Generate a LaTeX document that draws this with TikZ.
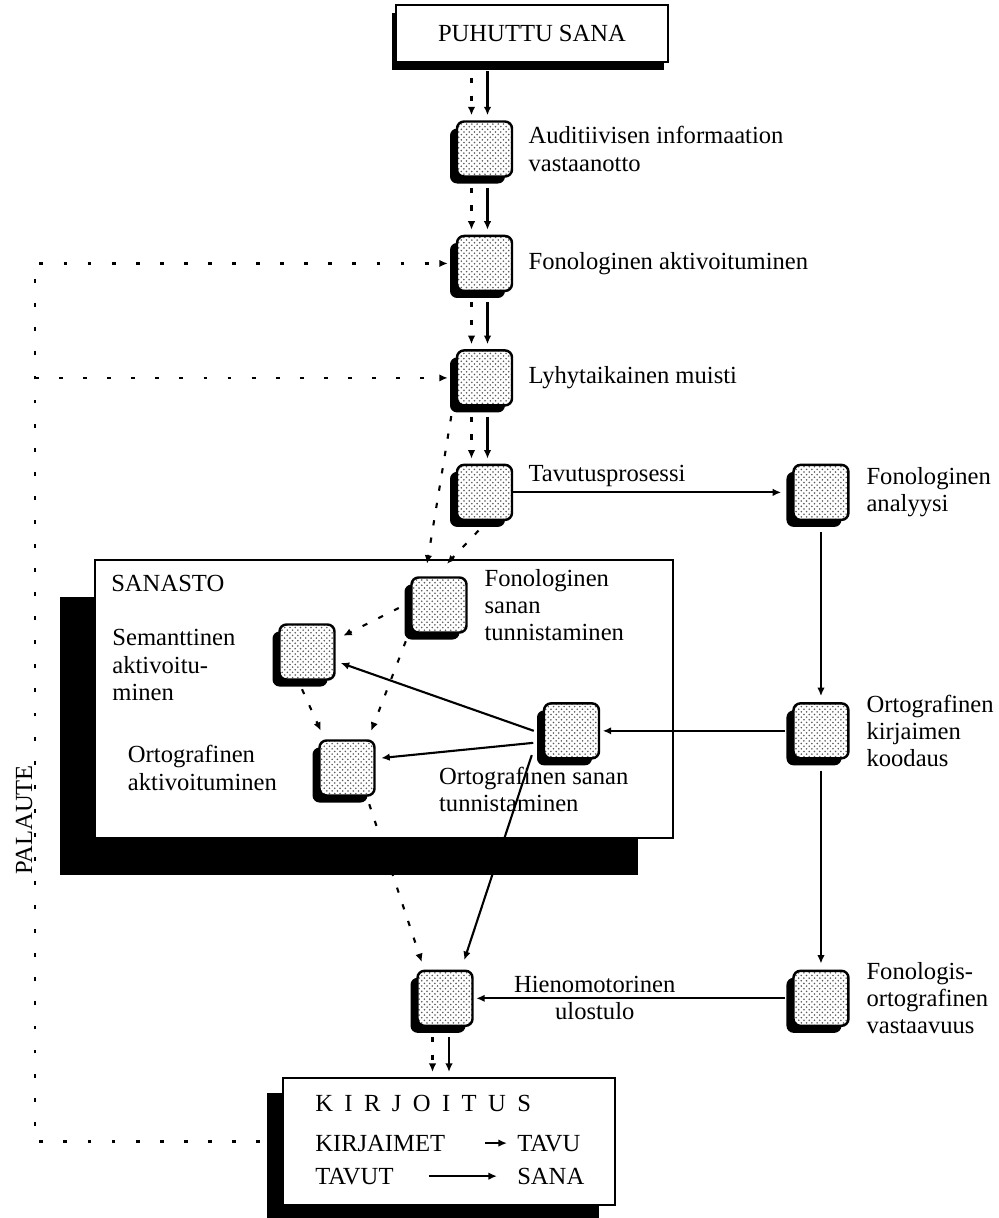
\documentclass[tikz,border=0pt]{standalone}
\usepackage{fontspec}
\setmainfont{Liberation Serif}
\usepackage{tikz}
\usetikzlibrary{arrows.meta,positioning,shadows,patterns,calc}

\begin{document}
\begin{tikzpicture}[
    font=\fontsize{14}{15.5}\selectfont,
    node distance=1.14cm,
    proc/.style={draw, line width=1.4pt, rounded corners=4pt, minimum size=1.1cm, inner sep=0pt,
        drop shadow={shadow xshift=-1.4mm, shadow yshift=-1.4mm, opacity=1, fill=black},
        preaction={fill=white}, pattern=crosshatch dots, pattern color=black!65},
    panel/.style={draw, line width=1.2pt, fill=white, inner sep=0pt},
    lbl/.style={align=left, inner sep=0pt},
    arrow/.style={-{Latex[length=1.7mm,width=1.5mm]}, line width=1.2pt},
    dotarrow/.style={arrow, dash pattern=on 3pt off 7pt},
    feedback/.style={arrow, line width=1.4pt, dash pattern=on 2.2pt off 11.5pt}
]
\useasboundingbox (0,0) rectangle (19.98,-24.36);

% big boxes
\node[panel, minimum width=5.44cm, minimum height=1.14cm,
    drop shadow={shadow xshift=-0.8mm, shadow yshift=-1.6mm, opacity=1, fill=black}] (puhe) at (10.64,-0.67) {PUHUTTU SANA};
\node[panel, minimum width=11.56cm, minimum height=5.56cm,
    drop shadow={shadow xshift=-7mm, shadow yshift=-7.4mm, opacity=1, fill=black}] (sanasto) at (7.68,-13.98) {};
\node[lbl, below right=0.32cm and 0.34cm of sanasto.north west] (sanastolbl) {SANASTO};
\node[panel, minimum width=6.64cm, minimum height=2.54cm,
    drop shadow={shadow xshift=-3.2mm, shadow yshift=-3mm, opacity=1, fill=black}] (kirj) at (8.98,-22.83) {};

% kirjoitus text
\node[lbl, below right=0.35cm and 0.66cm of kirj.north west] (kw) {\spaceskip=6.5pt K I R J O I T U S};
\node[lbl, anchor=base west] (ka) at ([yshift=-0.8cm]kw.base west) {KIRJAIMET};
\node[lbl, anchor=base west] (kb) at ([xshift=4.04cm]ka.base west) {TAVU};
\node[lbl, anchor=base west] (kc) at ([yshift=-0.66cm]ka.base west) {TAVUT};
\node[lbl, anchor=base west] (kd) at ([xshift=4.04cm]kc.base west) {SANA};
\draw[arrow, shorten <=0.8cm, shorten >=0.2cm] (ka.east) -- (ka.east -| kb.west);
\draw[arrow, shorten <=0.7cm, shorten >=0.4cm] (kc.east) -- (kc.east -| kd.west);

% main chain
\node[proc] (n1) at (9.69,-2.98) {};
\node[lbl, right=0.3cm of n1] (n1lbl) {Auditiivisen informaation\\vastaanotto};
\node[proc, below=of n1] (n2) {};
\node[lbl, right=0.3cm of n2] (n2lbl) {Fonologinen aktivoituminen};
\node[proc, below=of n2] (n3) {};
\node[lbl, right=0.3cm of n3] (n3lbl) {Lyhytaikainen muisti};
\node[proc, below=of n3] (n4) {};
\node[lbl, above right=0.1cm and 0.3cm of n4.east] (n4lbl) {Tavutusprosessi};
\node[proc, right=5.58cm of n4] (n5) {};
\node[lbl, right=0.33cm of n5] (n5lbl) {Fonologinen\\analyysi};
\node[proc, below=3.62cm of n5] (n6) {};
\node[lbl, right=0.33cm of n6] (n6lbl) {Ortografinen\\kirjaimen\\koodaus};
\node[proc, below=4.2cm of n6] (n7) {};
\node[lbl, right=0.33cm of n7] (n7lbl) {Fonologis-\\ortografinen\\vastaavuus};
\node[proc, left=6.37cm of n7] (n8) {};

% sanasto
\node[proc, left=3.84cm of n6] (os) {};
\node[lbl, anchor=north west] (oslbl) at ([xshift=-2.08cm,yshift=-0.15cm]os.south west) {Ortografinen sanan\\tunnistaminen};
\node[proc] (fs) at (8.78,-12.1) {};
\node[lbl, right=0.33cm of fs] (fslbl) {Fonologinen\\sanan\\tunnistaminen};
\node[proc] (sem) at (6.14,-13.04) {};
\node[lbl, left=0.85cm of sem, yshift=-0.26cm] (semlbl) {Semanttinen\\aktivoitu-\\minen};
\node[proc] (oa) at (6.94,-15.36) {};
\node[lbl, left=0.82cm of oa] (oalbl) {Ortografinen\\aktivoituminen};

\node[rotate=90, inner sep=0pt] (palaute) at (0.48,-16.4) {PALAUTE};

% vertical pairs
\draw[dotarrow, shorten <=3mm, shorten >=1mm] ([xshift=-2.6mm]n1.north |- puhe.south) -- ([xshift=-2.6mm]n1.north);
\draw[arrow, shorten <=1.6mm, shorten >=1mm] ([xshift=0.6mm]n1.north |- puhe.south) -- ([xshift=0.6mm]n1.north);
\draw[dotarrow, shorten <=2mm, shorten >=1mm] ([xshift=-2.6mm]n1.south) -- ([xshift=-2.6mm]n2.north);
\draw[arrow, shorten <=2mm, shorten >=1mm] ([xshift=0.6mm]n1.south) -- ([xshift=0.6mm]n2.north);
\draw[dotarrow, shorten <=2mm, shorten >=1mm] ([xshift=-2.6mm]n2.south) -- ([xshift=-2.6mm]n3.north);
\draw[arrow, shorten <=2mm, shorten >=1mm] ([xshift=0.6mm]n2.south) -- ([xshift=0.6mm]n3.north);
\draw[dotarrow, shorten <=2mm, shorten >=1mm] ([xshift=-2.6mm]n3.south) -- ([xshift=-2.6mm]n4.north);
\draw[arrow, shorten <=2mm, shorten >=1mm] ([xshift=0.6mm]n3.south) -- ([xshift=0.6mm]n4.north);
\draw[dotarrow, shorten <=2mm, shorten >=1mm] ([xshift=-2.5mm]n8.south) -- ([xshift=-2.5mm]n8.south |- kirj.north);
\draw[arrow, shorten <=2mm, shorten >=1mm] ([xshift=0.8mm]n8.south) -- ([xshift=0.8mm]n8.south |- kirj.north);

% right branch
\draw[arrow, shorten >=2.2mm] (n4.east) -- (n5.west);
\draw[arrow, shorten <=2.2mm, shorten >=1.2mm] (n5.south) -- (n6.north);
\draw[arrow, shorten <=2.2mm, shorten >=1.2mm] (n6.south) -- (n7.north);
\draw[arrow, shorten <=1.4mm, shorten >=0.5mm] (n6.west) -- (os.east);
\draw[arrow, shorten <=1.4mm, shorten >=0.5mm] (n7.west) -- (n8.east)
    node[lbl, pos=0.62, above=1mm] (hm) {Hienomotorinen}
    node[lbl, pos=0.62, below=0.6mm] (ul) {ulostulo};

% inside sanasto
\draw[arrow] ([xshift=-1.8mm]os.west) -- ([xshift=1mm,yshift=-2.2mm]sem.east);
\draw[arrow] ([xshift=-1.9mm,yshift=-2.4mm]os.west) -- ([xshift=1.1mm,yshift=2mm]oa.east);
\draw[arrow] ([xshift=-2.2mm,yshift=0.9mm]os.south west) -- ([xshift=-1.9mm,yshift=1.9mm]n8.north east);
\draw[dotarrow] ([xshift=-0.9mm,yshift=-1.9mm]n3.south west) -- ([xshift=-2.4mm,yshift=2.5mm]fs.north);
\draw[dotarrow] ([xshift=-1.2mm,yshift=-1.9mm]n4.south) -- ([xshift=1.6mm,yshift=2.5mm]fs.north);
\draw[dotarrow] ([xshift=-2.3mm,yshift=-0.6mm]fs.west) -- ([xshift=1.5mm,yshift=-2.5mm]sem.north east);
\draw[dotarrow] ([xshift=-0.9mm,yshift=-1.5mm]fs.south west) -- ([xshift=-0.9mm,yshift=1.7mm]oa.north east);
\draw[dotarrow] ([xshift=-1mm,yshift=-1.7mm]sem.south) -- ([xshift=0.5mm,yshift=1.7mm]oa.north west);
\draw[dotarrow] ([xshift=-1.3mm,yshift=-1.5mm]oa.south east) -- ([xshift=1.1mm,yshift=1.5mm]n8.north west);

% palaute
\coordinate (fbx) at (0.7,-5.36);
\draw[feedback] ([xshift=-4.4mm]kirj.west) -| (fbx |- n2.west) -- ([xshift=-1.6mm]n2.west);
\draw[feedback] (fbx |- n3.west) -- ([xshift=-1.6mm]n3.west);
\end{tikzpicture}
\end{document}
